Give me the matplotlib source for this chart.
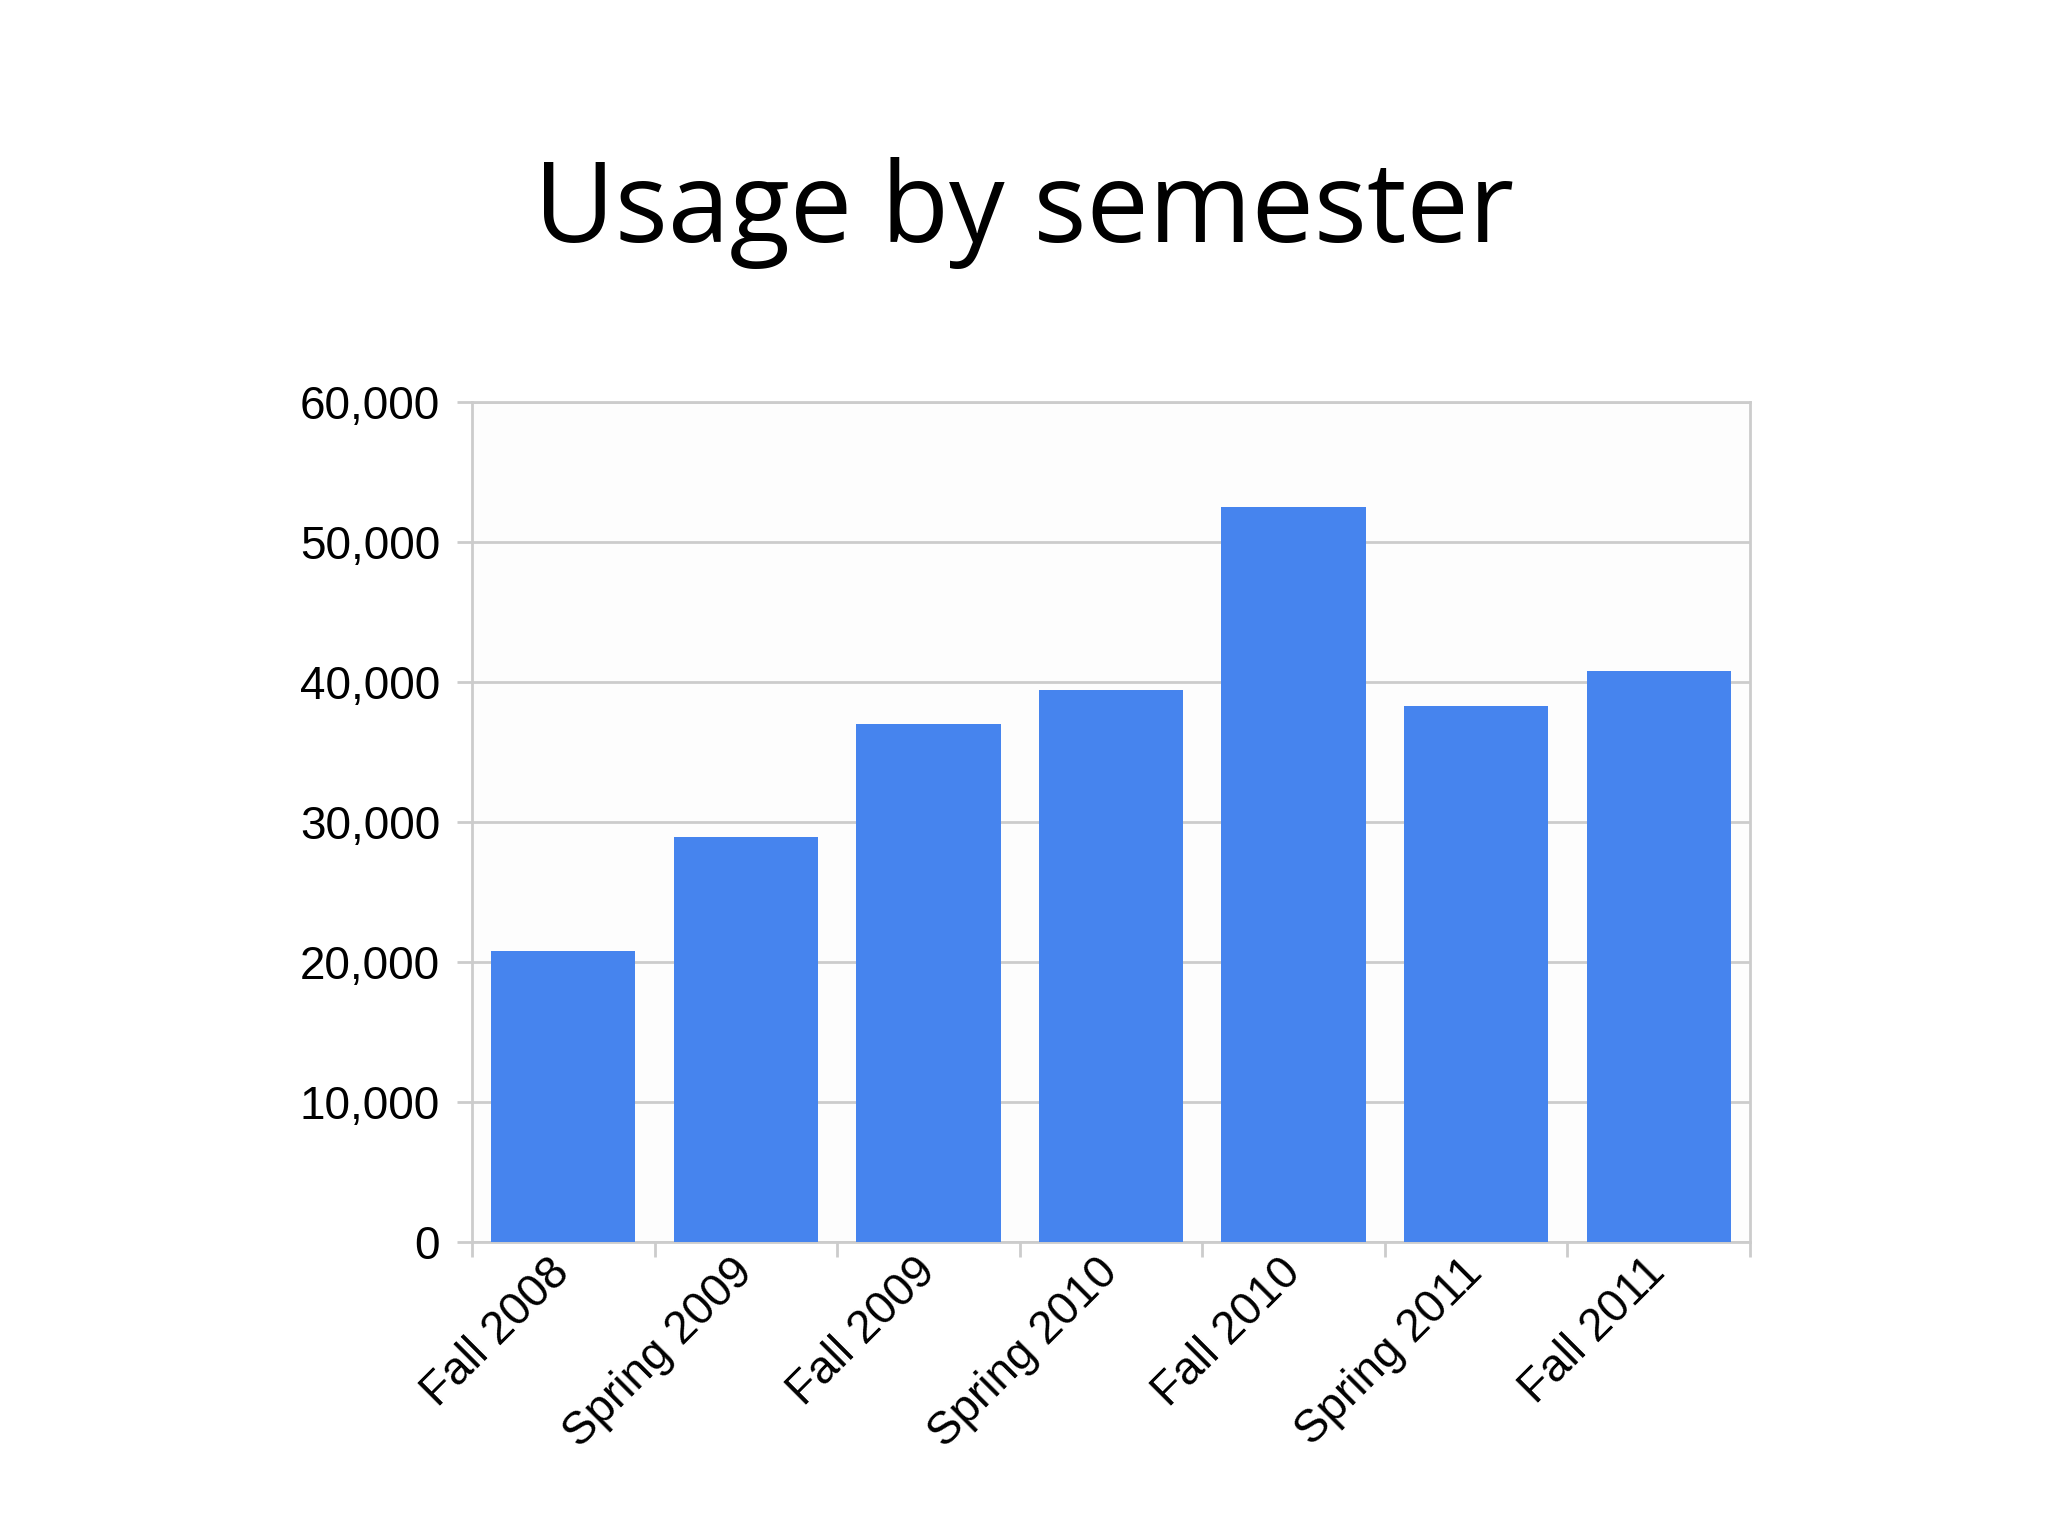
import numpy as np
import matplotlib
matplotlib.use("Agg")
import matplotlib.pyplot as plt
from matplotlib.ticker import FuncFormatter

categories = ["Fall 2008", "Spring 2009", "Fall 2009", "Spring 2010",
              "Fall 2010", "Spring 2011", "Fall 2011"]
usage = [20800, 28900, 37000, 39400, 52500, 38300, 40800]
y_ticks = [0, 10000, 20000, 30000, 40000, 50000, 60000]
title = "Usage by semester"

tick_font = ["Liberation Sans", "DejaVu Sans"]
grid_col = "#cccccc"
bar_col = "#4684ee"

fig = plt.figure(figsize=(20.48, 15.36), dpi=100)
fig.patch.set_facecolor("white")
ax = fig.add_axes([0.2305, 0.1914, 0.624, 0.5469])
ax.set_facecolor("#fdfdfd")

x = np.arange(len(categories))
ax.bar(x, usage, width=0.79, color=bar_col, zorder=3)

ax.set_xlim(-0.5, len(categories) - 0.5)
ax.set_ylim(0, 60000)
ax.set_yticks(y_ticks)
ax.yaxis.set_major_formatter(FuncFormatter(lambda v, p: f"{int(v):,}"))
ax.grid(axis="y", color=grid_col, linewidth=2.0, zorder=0)

ax.set_xticks(np.arange(-0.5, len(categories), 1.0))
ax.set_xticklabels([])
ax.set_xticks(x, minor=True)
ax.set_xticklabels(categories, minor=True, rotation=45, ha="right",
                   va="center", rotation_mode="anchor",
                   fontsize=33, family=tick_font)
ax.tick_params(axis="x", which="minor", length=0, pad=17)
ax.tick_params(axis="x", which="major", length=11, width=2, color=grid_col)
ax.tick_params(axis="y", length=11, width=2, color=grid_col, pad=12,
               labelsize=33)
for lab in ax.get_yticklabels():
    lab.set_family(tick_font)

for s in ax.spines.values():
    s.set_color(grid_col)
    s.set_linewidth(2.0)

fig.text(0.5, 0.8424, title, ha="center", va="baseline",
         fontsize=80, family=["Open Sans", "DejaVu Sans"], color="black")

fig.savefig("out.png", dpi=100, facecolor="white")
